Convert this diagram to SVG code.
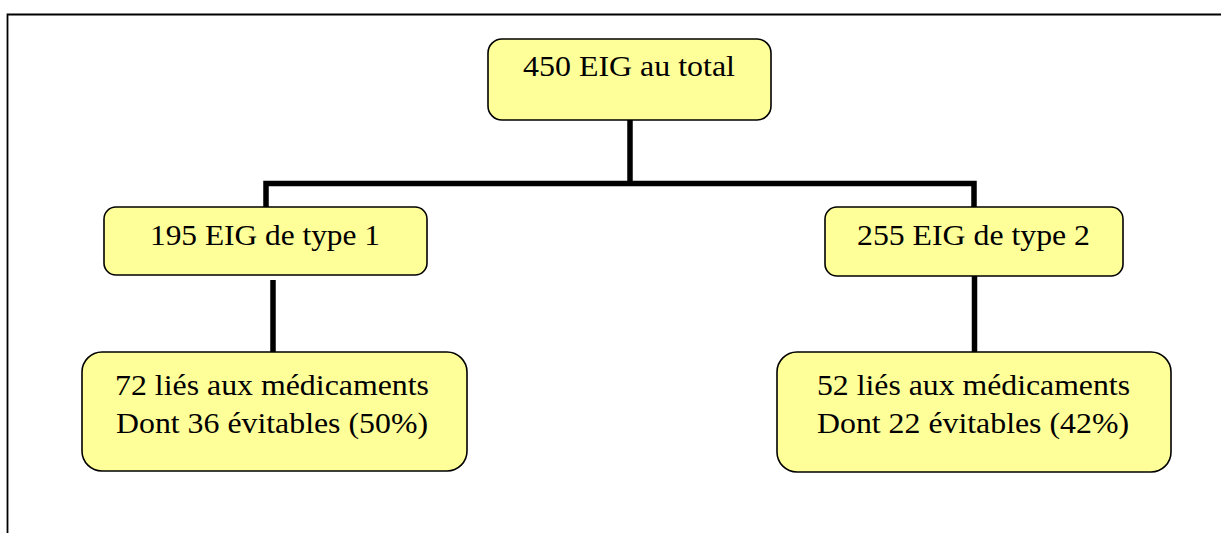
<svg xmlns="http://www.w3.org/2000/svg" width="1221" height="533" viewBox="0 0 1221 533">
<style>
.box{fill:#FFFF99;stroke:#000;stroke-width:1.6}
.t{font-family:"Liberation Serif","Times New Roman",serif;font-size:29px;fill:#000}
.c{stroke:#000;stroke-width:5.5;fill:none}
.frame{stroke:#000;stroke-width:1.8;fill:none}
</style>
<rect width="1221" height="533" fill="#fff"/>
<path class="frame" d="M7.5,533 V14.5 H1221"/>
<g id="connectors">
<path class="c" d="M630,120 V183.5"/>
<path class="c" d="M266,207 V183.5 H974 V207"/>
<path class="c" d="M273,280 V352"/>
<path class="c" d="M974.5,276 V352"/>
</g>
<g id="n_total">
<rect class="box" x="488" y="39" width="283" height="81" rx="14"/>
<text class="t" x="523" y="76" textLength="212" lengthAdjust="spacingAndGlyphs">450 EIG au total</text>
</g>
<g id="n_type1">
<rect class="box" x="104" y="207" width="323" height="68" rx="12"/>
<text class="t" x="150" y="245" textLength="230" lengthAdjust="spacingAndGlyphs">195 EIG de type 1</text>
</g>
<g id="n_type2">
<rect class="box" x="825" y="207" width="298" height="69" rx="12"/>
<text class="t" x="857" y="245" textLength="233" lengthAdjust="spacingAndGlyphs">255 EIG de type 2</text>
</g>
<g id="n_med1">
<rect class="box" x="82" y="352" width="385" height="119" rx="20"/>
<text class="t" x="115" y="395" textLength="314" lengthAdjust="spacingAndGlyphs">72 liés aux médicaments</text>
<text class="t" x="116" y="433" textLength="312" lengthAdjust="spacingAndGlyphs">Dont 36 évitables (50%)</text>
</g>
<g id="n_med2">
<rect class="box" x="777" y="352" width="394" height="120" rx="20"/>
<text class="t" x="817" y="395" textLength="313" lengthAdjust="spacingAndGlyphs">52 liés aux médicaments</text>
<text class="t" x="817" y="433" textLength="312" lengthAdjust="spacingAndGlyphs">Dont 22 évitables (42%)</text>
</g>
</svg>
